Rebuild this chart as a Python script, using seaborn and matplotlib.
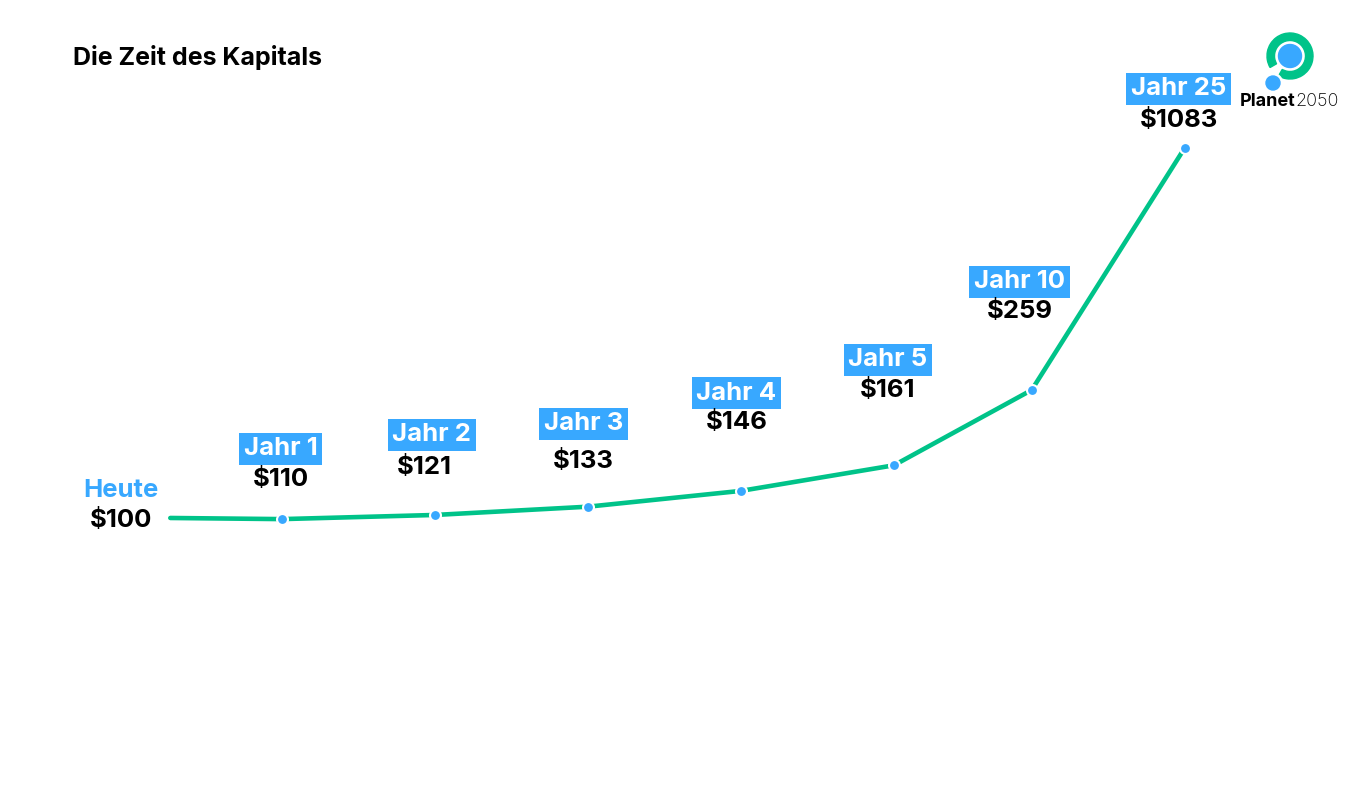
import matplotlib
matplotlib.use("Agg")
import matplotlib.pyplot as plt
import seaborn as sns
import pandas as pd
from matplotlib.patches import Wedge, Circle

# data
stages = ["Heute", "Jahr 1", "Jahr 2", "Jahr 3", "Jahr 4", "Jahr 5", "Jahr 10", "Jahr 25"]
values = [100, 110, 121, 133, 146, 161, 259, 1083]
# position along the timeline and the height of the drawn line
timeline = [0.27, 1, 2, 3, 4, 5, 5.9, 6.9]
line_y = [100, 97, 108, 130, 172, 240, 440, 1083]

# where the labels sit (layout)
lab_x = [-0.05, 0.99, 1.98, 2.97, 3.97, 4.96, 5.82, 6.86]
val_x = [-0.05, 0.99, 1.93, 2.97, 3.97, 4.96, 5.82, 6.86]
lab_y = [172, 284, 321, 350, 432, 520, 727, 1240]
val_y = [92, 203, 233, 249, 353, 438, 648, 1156]

GREEN = "#00C389"
BLUE = "#38A8FF"

sns.set_theme(style="white")
plt.rcParams['font.family'] = ['Inter', 'DejaVu Sans']

df = pd.DataFrame({"stage": stages, "x": timeline, "y": line_y, "value": values})

fig = plt.figure(figsize=(13.55, 7.86), dpi=100)
ax = fig.add_axes([0, 0, 1, 1])
sns.lineplot(data=df, x="x", y="y", color=GREEN, linewidth=3.3, ax=ax, zorder=2)
sns.scatterplot(data=df.iloc[1:], x="x", y="y", color=BLUE, s=62, edgecolor="white",
                linewidth=1.5, ax=ax, zorder=3)

for i, st in enumerate(stages):
    if st == "Heute":
        ax.text(lab_x[i], lab_y[i], st, ha="center", va="center", fontsize=18.5,
                fontweight="bold", color=BLUE)
    else:
        ax.text(lab_x[i], lab_y[i], st, ha="center", va="center", fontsize=18.5,
                fontweight="bold", color="white",
                bbox=dict(boxstyle="square,pad=0.18", fc=BLUE, ec="none"))
    ax.text(val_x[i], val_y[i], f"${values[i]}", ha="center", va="center", fontsize=18.5,
            fontweight="bold", color="black")

ax.set_xlim(-0.843, 8.013)
ax.set_ylim(-612, 1476)
ax.axis("off")

fig.text(73 / 1355, 1 - 58 / 786, "Die Zeit des Kapitals", fontsize=18, fontweight="bold",
         ha="left", va="center", color="black")

# logo
lax = fig.add_axes([1262 / 1355, 1 - 95 / 786, 56 / 1355, 65 / 786])
lax.set_xlim(1262, 1318)
lax.set_ylim(95, 30)
lax.set_aspect("equal")
lax.axis("off")
lax.add_patch(Wedge((1290, 56), 23, 150, 480, width=7.5, color=GREEN))
lax.add_patch(Circle((1290, 56), 11.5, color=BLUE))
lax.add_patch(Circle((1273, 83), 9.5, color="white"))
lax.add_patch(Circle((1273, 83), 7, color=BLUE))
planet = fig.text(1240 / 1355, 1 - 102 / 786, "Planet", fontsize=13, fontweight="bold",
                  ha="left", va="center", color="black")
fig.texts.append(matplotlib.text.Annotation("2050", xy=(1, 0.5), xycoords=planet,
                                            va="center", ha="left", fontsize=13,
                                            fontweight="light", color="black"))
fig.texts[-1].set_figure(fig)

fig.savefig("out.png", dpi=100)
